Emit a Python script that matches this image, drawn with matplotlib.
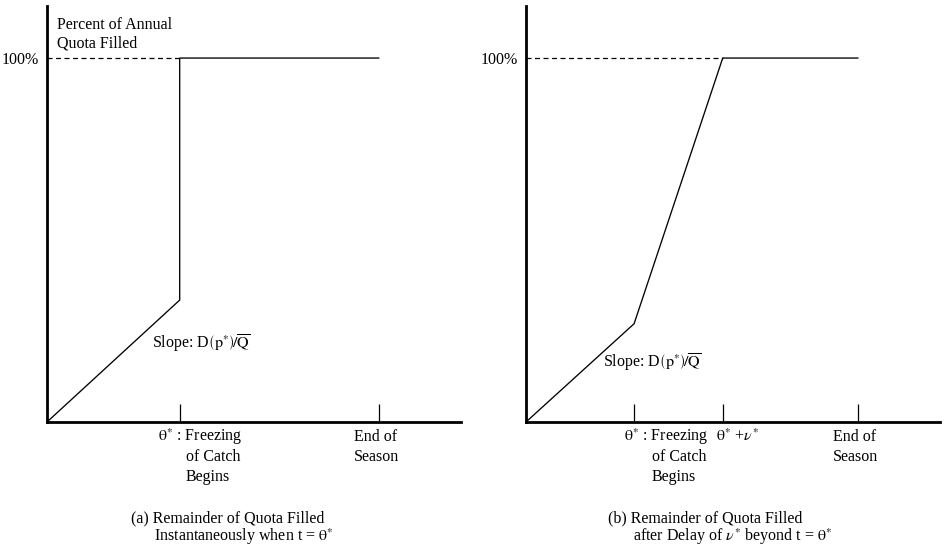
import matplotlib
matplotlib.use("Agg")
import matplotlib.pyplot as plt

plt.rcParams['font.family'] = ['Liberation Serif', 'DejaVu Serif']
plt.rcParams['mathtext.fontset'] = 'stix'

# ---- data (time in units of theta*, quota in percent) ----
quota_full = 100.0
# panel (a): instantaneous fill at theta*
a_theta = 1.0
a_end = 2.5
a_kink = 33.5
a_xmax = 3.12
# panel (b): fill finished after delay nu*
b_theta = 1.0
b_theta_nu = 1.82
b_end = 3.07
b_kink = 27.0
b_xmax = 3.83
y_max = 114.3

W, H = 944, 546
fig = plt.figure(figsize=(W / 100, H / 100), dpi=100)


def px(x, y):
    return x / W, 1 - y / H


fs = 11.5


def make_axes(left_px):
    ax = fig.add_axes([left_px / W, (H - 422) / H, 414 / W, 416 / H])
    for s in ('top', 'right'):
        ax.spines[s].set_visible(False)
    for s in ('left', 'bottom'):
        ax.spines[s].set_linewidth(2.0)
    ax.set_ylim(0, y_max)
    ax.set_yticks([quota_full])
    ax.set_yticklabels(['100%'], fontsize=fs)
    ax.tick_params(axis='y', length=0, pad=6)
    ax.tick_params(axis='x', direction='in', length=13, width=0.9, labelbottom=False)
    return ax


line_kw = dict(color='black', lw=0.95, solid_joinstyle='miter')
dash_kw = dict(color='black', lw=0.9, dashes=(4, 2.8))

# ---- panel (a) ----
axa = make_axes(47)
axa.set_xlim(0, a_xmax)
axa.set_xticks([a_theta, a_end])
axa.plot([0, a_theta], [quota_full, quota_full], **dash_kw)
axa.plot([0, a_theta, a_theta, a_end], [0, a_kink, quota_full, quota_full], **line_kw)

# ---- panel (b) ----
axb = make_axes(526)
axb.set_xlim(0, b_xmax)
axb.set_xticks([b_theta, b_theta_nu, b_end])
axb.plot([0, b_theta_nu], [quota_full, quota_full], **dash_kw)
axb.plot([0, b_theta, b_theta_nu, b_end], [0, b_kink, quota_full, quota_full], **line_kw)


def T(x, y, s, **kw):
    kw.setdefault('fontsize', fs)
    kw.setdefault('va', 'center')
    kw.setdefault('ha', 'left')
    fig.text(*px(x, y), s, **kw)


TH = r'$\mathrm{\theta}^{*}$'

# axis title
T(57, 25, 'Percent of Annual')
T(57, 44, 'Quota Filled')

# slope labels
slope = r'Slope: D$\left(\mathrm{p}^{*}\right)\!/\overline{\mathrm{Q}}$'
T(152, 343, slope)
T(603, 362, slope)

# tick labels panel (a)
T(158, 437, TH + ' : Freezing')
T(186, 457, 'of Catch')
T(186, 477, 'Begins')
T(354, 437, 'End of')
T(354, 457, 'Season')

# tick labels panel (b)
T(624, 437, TH + ' : Freezing')
T(652, 457, 'of Catch')
T(652, 477, 'Begins')
T(716, 437, TH + r' +$\nu^{*}$')
T(833, 437, 'End of')
T(833, 457, 'Season')

# captions
T(131, 518, '(a) Remainder of Quota Filled')
T(154, 537, 'Instantaneously when t = ' + TH)
T(608, 518, '(b) Remainder of Quota Filled')
T(633, 537, r'after Delay of $\nu^{*}$ beyond t = ' + TH)

fig.savefig('out.png', dpi=100)
